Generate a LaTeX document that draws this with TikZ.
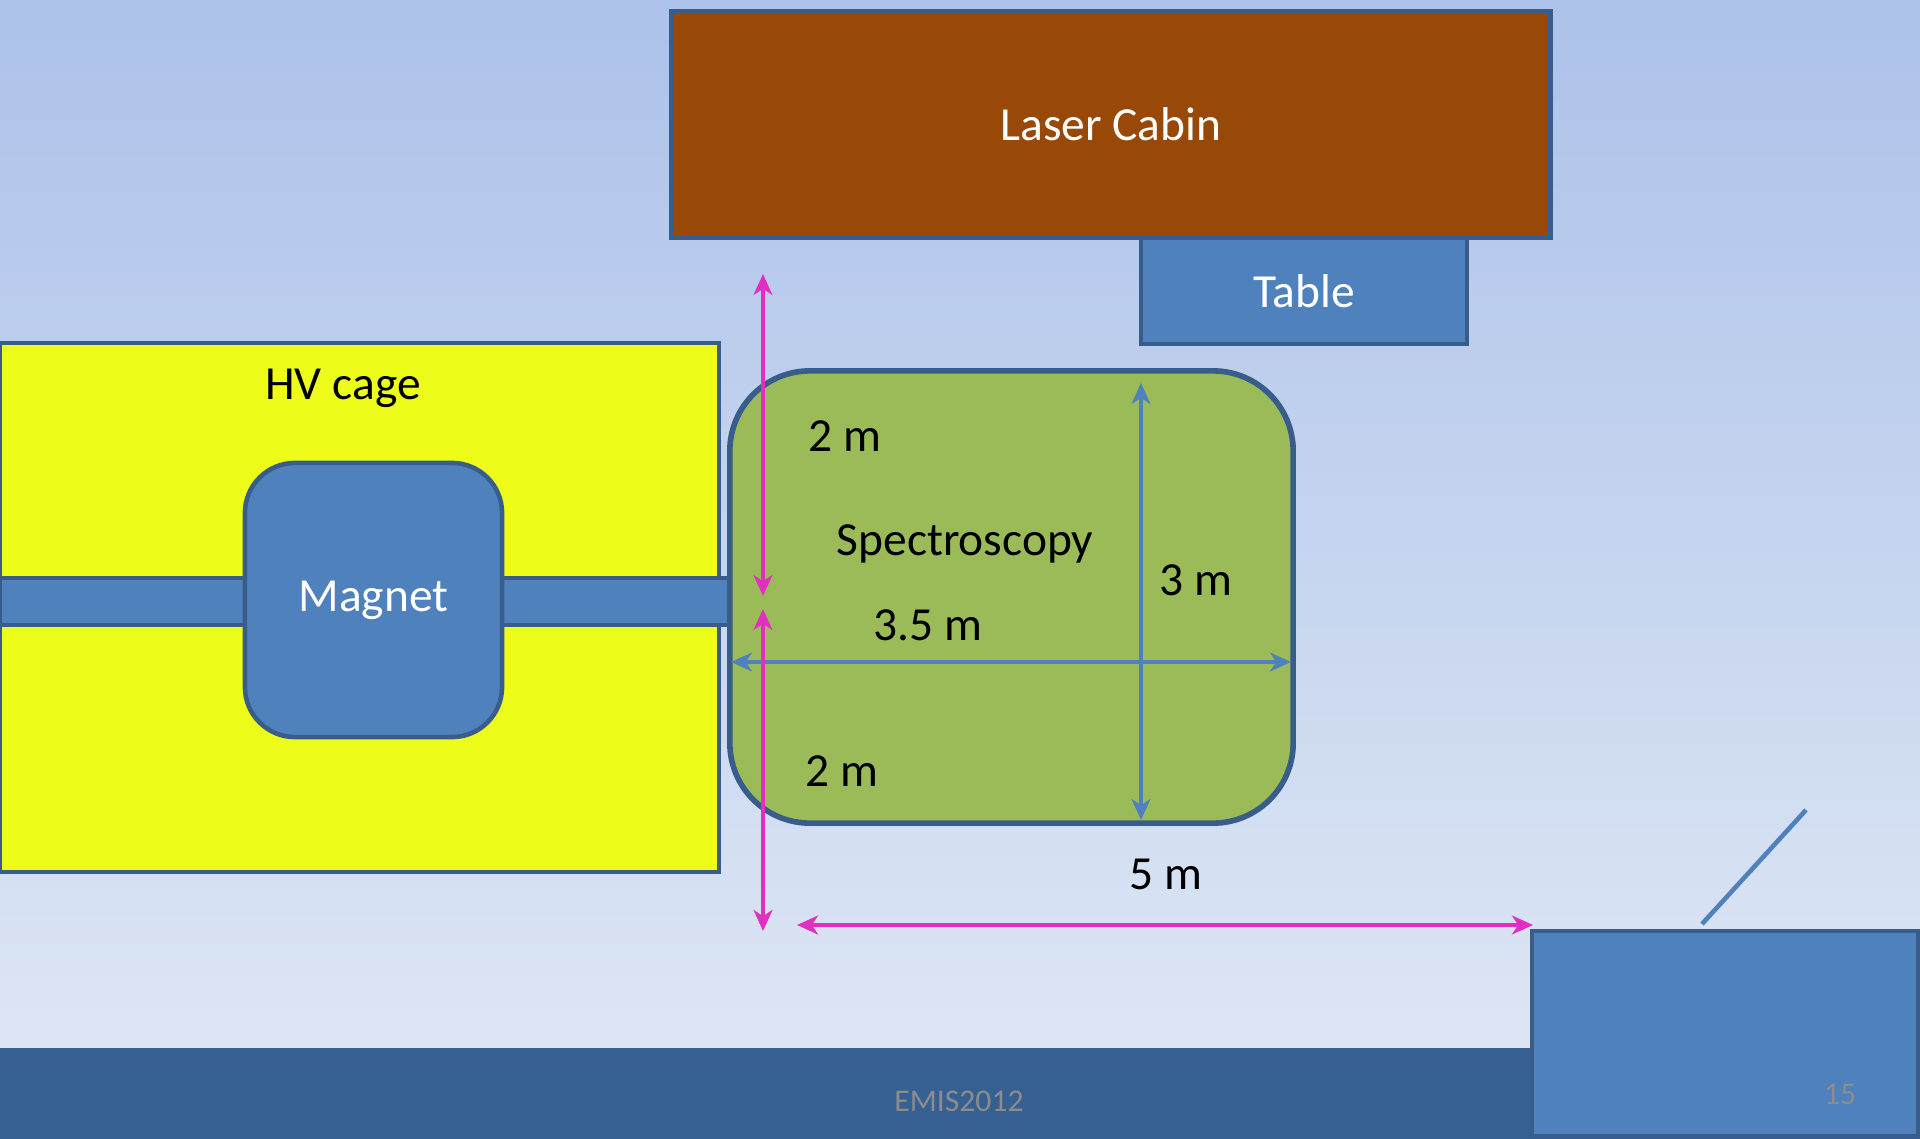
\documentclass[tikz,border=0pt]{standalone}
\usepackage{fontspec}
\setmainfont{Carlito}
\usetikzlibrary{arrows.meta}
\definecolor{edge}{HTML}{385D8A}
\definecolor{steel}{HTML}{4F81BD}
\definecolor{rust}{HTML}{984807}
\definecolor{lime}{HTML}{EEFC1A}
\definecolor{moss}{HTML}{9BBB59}
\definecolor{pink}{HTML}{E32FC0}
\definecolor{navy}{HTML}{366092}
\definecolor{skytop}{HTML}{ADC2EA}
\definecolor{skybot}{HTML}{DDE6F4}
\definecolor{numgray}{HTML}{8C8C8C}
\tikzset{
  block/.style={draw=edge,line width=1.3pt,inner sep=0pt,font=\fontsize{13.5}{16}\selectfont},
  lbl/.style={anchor=base,inner sep=0pt,font=\fontsize{13.5}{16}\selectfont},
  foot/.style={anchor=base,inner sep=0pt,text=numgray,font=\fontsize{9}{11}\selectfont},
  dim/.style={line width=0.9pt,>={Stealth[length=6pt,width=5.4pt,inset=1.8pt]},<->}
}

\begin{document}
\begin{tikzpicture}[x=0.01cm,y=-0.01cm]
  \useasboundingbox (0,0) rectangle (1920,1139);
  \shade[top color=skytop,bottom color=skybot] (0,0) rectangle (1920,1048);
  \fill[navy] (0,1048) rectangle (1920,1139);
  % hall
  \node[block,fill=lime,minimum width=7.19cm,minimum height=5.29cm] (cage) at (359.5,607.5) {};
  \node[lbl] (cagetxt) at (343,399) {HV cage};
  \node[block,fill=steel,minimum width=7.29cm,minimum height=0.47cm] (pipe) at (364.5,601.5) {};
  \node[block,fill=steel,text=white,rounded corners=0.5cm,minimum width=2.57cm,minimum height=2.74cm] (magnet) at (373.5,600) {Magnet};
  \node[block,fill=moss,line width=1.6pt,rounded corners=0.8cm,minimum width=5.63cm,minimum height=4.52cm] (spec) at (1011.5,597) {};
  \node[lbl] (spectxt) at (965,555) {Spectroscopy};
  \node[block,fill=steel,text=white,minimum width=3.26cm,minimum height=1.06cm] (table) at (1304,291) {Table};
  \node[block,fill=rust,text=white,minimum width=8.78cm,minimum height=2.27cm] (cabin) at (1111,124.5) {Laser Cabin};
  \node[block,fill=steel,minimum width=3.86cm,minimum height=2.05cm] (box) at (1725,1033.5) {};
  \coordinate (d1) at (1702,924);
  \coordinate (d2) at (1806,810);
  \draw[steel,line width=1.3pt] (d1) -- (d2);
  % dimensions
  \coordinate (hw) at (731,662);
  \coordinate (he) at (1291,662);
  \coordinate (vn) at (1141,383);
  \coordinate (vs) at (1141,820);
  \draw[dim,steel] (hw) -- (he);
  \draw[dim,steel] (vn) -- (vs);
  \coordinate (m1) at (763,274);
  \coordinate (m2) at (763,596);
  \coordinate (m3) at (763,609);
  \coordinate (m4) at (763,931);
  \coordinate (m5) at (797,925);
  \coordinate (m6) at (1533,925);
  \draw[dim,pink] (m1) -- (m2);
  \draw[dim,pink] (m3) -- (m4);
  \draw[dim,pink] (m5) -- (m6);
  \node[lbl] (twoup) at (845,451) {2 m};
  \node[lbl] (wide) at (928,640) {3.5 m};
  \node[lbl] (deep) at (1196,595) {3 m};
  \node[lbl] (twolow) at (842,786) {2 m};
  \node[lbl] (five) at (1166,889) {5 m};
  \node[foot] (event) at (959,1111) {EMIS2012};
  \node[foot] (page) at (1840,1104) {15};
\end{tikzpicture}
\end{document}
